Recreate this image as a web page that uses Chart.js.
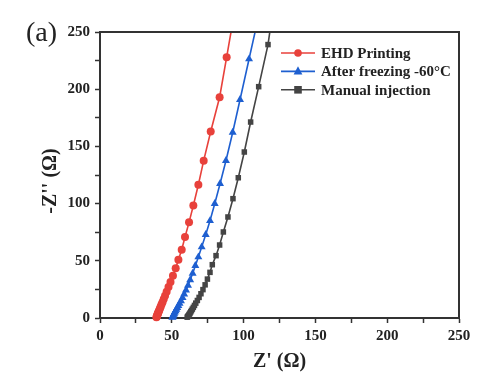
<!DOCTYPE html>
<html>
<head>
<meta charset="utf-8">
<script src="https://cdn.jsdelivr.net/npm/chart.js@4"></script>
<style>
  html, body { margin: 0; padding: 0; background: #fff; }
  #wrap { position: relative; width: 492px; height: 390px; }
</style>
</head>
<body>
<div id="wrap"><canvas id="nyquist" width="492" height="390"></canvas></div>
<script>
// Nyquist data: Z' (x) and -Z'' (y), in ohms
const seriesNames = ['EHD Printing', 'After freezing -60°C', 'Manual injection'];
const seriesColors = ['#E8413B', '#1E5FD0', '#444444'];

const ehdX = [39.3, 39.5, 39.7, 39.9, 40.1, 40.3, 40.6, 41.0, 41.3, 41.8, 42.3, 42.9, 43.6, 44.4, 45.3, 46.4, 47.7, 49.1, 50.8, 52.7, 54.6, 56.9, 59.2, 62.0, 65.0, 68.5, 72.2, 77.1, 83.3, 88.2, 94.0];
const ehdY = [0.6, 1.2, 1.8, 2.5, 3.2, 4.0, 5.0, 6.0, 7.0, 8.5, 10.0, 12.0, 14.0, 16.5, 19.5, 23.0, 27.0, 31.5, 37.0, 43.4, 51.0, 59.7, 70.8, 83.6, 98.4, 116.5, 137.5, 163.0, 193.0, 228.0, 270.0];

const frozenX = [50.4, 50.6, 50.8, 51.0, 51.3, 51.7, 52.1, 52.6, 53.2, 53.8, 54.6, 55.4, 56.4, 57.5, 58.6, 59.9, 61.3, 62.8, 64.5, 66.4, 68.5, 70.8, 73.6, 76.6, 79.9, 83.6, 87.7, 92.4, 97.5, 103.8, 111.2];
const frozenY = [0.5, 1.0, 1.6, 2.3, 3.1, 4.0, 5.0, 6.2, 7.5, 9.0, 10.7, 12.7, 15.0, 17.7, 20.8, 24.3, 28.5, 33.3, 39.0, 45.7, 53.3, 62.0, 72.8, 85.0, 99.9, 117.4, 137.5, 162.2, 190.8, 226.4, 268.0];

const manualX = [60.7, 61.1, 61.5, 61.9, 62.3, 62.7, 63.2, 63.7, 64.3, 65.0, 65.8, 66.7, 67.8, 69.0, 70.3, 71.7, 73.2, 74.8, 76.6, 78.2, 80.8, 83.3, 85.9, 89.1, 92.6, 96.3, 100.5, 104.9, 110.5, 117.0, 122.0];
const manualY = [0.7, 1.3, 2.0, 2.7, 3.5, 4.4, 5.4, 6.5, 7.8, 9.3, 11.0, 13.0, 15.3, 18.0, 21.2, 24.8, 29.0, 34.0, 39.9, 46.6, 54.5, 63.8, 75.2, 88.3, 104.3, 122.6, 145.1, 171.3, 202.2, 239.0, 283.0];

const xTitle = "Z' (Ω)";
const yTitle = "-Z'' (Ω)";
const panelTag = '(a)';

const serif = '"Liberation Serif", "Times New Roman", serif';
const axisColor = '#333';

const toPoints = (xs, ys) => xs.map((x, i) => ({ x, y: ys[i] }));

function drawMarker(ctx, style, x, y, r, color) {
    ctx.save();
    ctx.fillStyle = color;
    ctx.beginPath();
    if (style === 'circle') {
        ctx.arc(x, y, r, 0, Math.PI * 2);
    } else if (style === 'triangle') {
        ctx.moveTo(x, y - r * 1.15);
        ctx.lineTo(x + r, y + r * 0.7);
        ctx.lineTo(x - r, y + r * 0.7);
        ctx.closePath();
    } else {
        ctx.rect(x - r, y - r, r * 2, r * 2);
    }
    ctx.fill();
    ctx.restore();
}

// frame, legend, axis titles and panel tag
const decorations = {
    id: 'decorations',
    afterDraw(chart) {
        const { ctx, chartArea: a } = chart;
        ctx.save();
        ctx.strokeStyle = axisColor;
        ctx.lineWidth = 2;
        ctx.beginPath();
        ctx.moveTo(a.left, a.top);
        ctx.lineTo(a.right, a.top);
        ctx.lineTo(a.right, a.bottom);
        ctx.stroke();

        // legend
        const styles = ['circle', 'triangle', 'rect'];
        chart.data.datasets.forEach((ds, i) => {
            const y = a.top + 21 + i * 18.4;
            const x0 = a.left + 181;
            ctx.strokeStyle = ds.borderColor;
            ctx.lineWidth = 1.6;
            ctx.beginPath();
            ctx.moveTo(x0, y);
            ctx.lineTo(x0 + 34, y);
            ctx.stroke();
            drawMarker(ctx, styles[i], x0 + 17, y, i === 1 ? 4.4 : 3.8, ds.borderColor);
            ctx.fillStyle = '#222';
            ctx.font = 'bold 15px ' + serif;
            ctx.textAlign = 'left';
            ctx.textBaseline = 'middle';
            ctx.fillText(ds.label, x0 + 40, y + 1);
        });

        // axis titles
        ctx.fillStyle = '#222';
        ctx.font = 'bold 20px ' + serif;
        ctx.textAlign = 'center';
        ctx.textBaseline = 'middle';
        ctx.fillText(xTitle, (a.left + a.right) / 2, 362);
        ctx.save();
        ctx.translate(51, (a.top + a.bottom) / 2 + 6);
        ctx.rotate(-Math.PI / 2);
        ctx.fillText(yTitle, 0, 0);
        ctx.restore();

        ctx.font = '28px ' + serif;
        ctx.textAlign = 'left';
        ctx.fillText(panelTag, 26, 34);
        ctx.restore();
    }
};

const tickFont = { family: serif, size: 15, weight: 'bold' };

new Chart(document.getElementById('nyquist'), {
    type: 'scatter',
    data: {
        datasets: [
            { label: seriesNames[0], data: toPoints(ehdX, ehdY), pointStyle: 'circle', pointRadius: 4 },
            { label: seriesNames[1], data: toPoints(frozenX, frozenY), pointStyle: 'triangle', pointRadius: 4.6 },
            { label: seriesNames[2], data: toPoints(manualX, manualY), pointStyle: 'rect', pointRadius: 3.9 }
        ].map((ds, i) => Object.assign(ds, {
            showLine: true,
            borderColor: seriesColors[i],
            backgroundColor: seriesColors[i],
            pointBorderWidth: 0,
            borderWidth: 1.6,
            tension: 0,
            clip: { left: 10, right: 10, top: 0, bottom: 10 }
        }))
    },
    options: {
        responsive: false,
        animation: false,
        events: [],
        layout: { padding: { top: 32, right: 33, left: 0, bottom: 0 } },
        scales: {
            x: {
                type: 'linear',
                min: 0,
                max: 250,
                afterFit: s => { s.height = 72; },
                ticks: {
                    stepSize: 25,
                    autoSkip: false,
                    maxRotation: 0,
                    padding: 4,
                    color: '#222',
                    font: tickFont,
                    callback: v => (v % 50 === 0 ? v : '')
                },
                grid: { drawOnChartArea: false, drawTicks: true, tickLength: 5, tickColor: axisColor, tickWidth: 1.5 },
                border: { display: true, color: axisColor, width: 2 }
            },
            y: {
                type: 'linear',
                min: 0,
                max: 250,
                afterFit: s => { s.width = 100; },
                ticks: {
                    stepSize: 25,
                    autoSkip: false,
                    padding: 5,
                    color: '#222',
                    font: tickFont,
                    callback: v => (v % 50 === 0 ? v : '')
                },
                grid: { drawOnChartArea: false, drawTicks: true, tickLength: 5, tickColor: axisColor, tickWidth: 1.5 },
                border: { display: true, color: axisColor, width: 2 }
            }
        },
        plugins: {
            legend: { display: false },
            tooltip: { enabled: false }
        }
    },
    plugins: [decorations]
});
</script>
</body>
</html>
